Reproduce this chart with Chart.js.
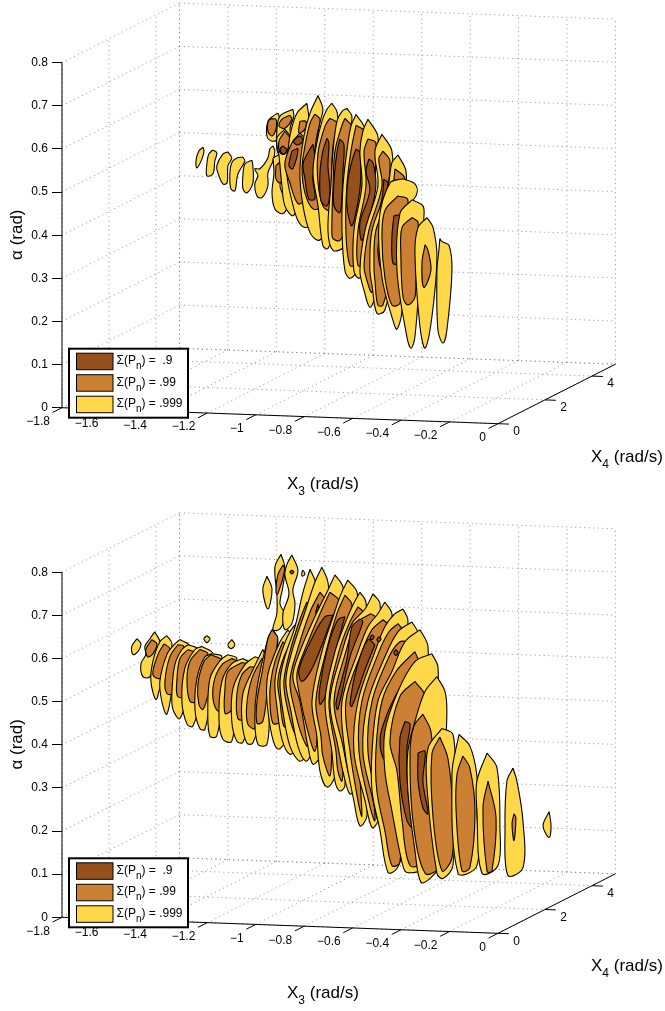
<!DOCTYPE html>
<html>
<head>
<meta charset="utf-8">
<title>Contours</title>
<script src="https://cdn.jsdelivr.net/npm/chart.js@4"></script>
<style>
  html, body { margin: 0; padding: 0; background: #fff; overflow: hidden; }
  canvas { display: block; }
</style>
</head>
<body>
<canvas id="upper" width="665" height="505"></canvas>
<canvas id="lower" width="665" height="506"></canvas>
<script>
// ticks of the three axes
const x3Ticks = [-1.8, -1.6, -1.4, -1.2, -1, -0.8, -0.6, -0.4, -0.2, 0];
const x3Labels = ['\u22121.8', '\u22121.6', '\u22121.4', '\u22121.2', '\u22121', '\u22120.8', '\u22120.6', '\u22120.4', '\u22120.2', '0'];
const x4Ticks = [0, 2, 4];
const x4Max = 5;
const alphaTicks = [0, 0.1, 0.2, 0.3, 0.4, 0.5, 0.6, 0.7, 0.8];
const legendLabels = [') =  .9', ') = .99', ') = .999'];

// contour outlines, first number = slice, then pairs of
// projected x3 and projected alpha, both in thousandths
const upperYellow = [
  [0,-1218,604,-1214,595,-1222,577,-1243,556,-1247,572,-1235,595],
  [1,-1177,598,-1161,591,-1169,572,-1177,542,-1202,538,-1202,565,-1194,588],
  [2,-1115,593,-1099,579,-1115,561,-1119,521,-1136,519,-1156,544,-1161,561,-1136,588],
  [3,-1053,581,-1045,572,-1074,542,-1086,503,-1103,508,-1107,542,-1099,568,-1078,579],
  [4,-1016,574,-1012,561,-1012,521,-1037,498,-1053,508,-1053,538,-1045,565],
  [5,-929,607,-921,595,-929,572,-950,544,-950,514,-975,487,-995,491,-1004,519,-991,538,-1004,554,-983,554,-950,579,-942,600],
  [6,-909,683,-900,669,-913,641,-909,623,-933,618,-954,630,-950,664,-929,676],
  [7,-847,692,-843,676,-859,646,-851,623,-880,595,-909,591,-913,641,-900,676],
  [8,-929,579,-892,588,-888,544,-900,514,-871,468,-888,450,-921,461,-933,498,-925,544],
  [9,-880,646,-851,623,-859,591,-859,514,-830,468,-847,445,-880,468,-892,514,-904,584,-913,625],
  [10,-789,706,-781,676,-768,618,-756,503,-768,429,-797,418,-826,434,-851,480,-871,538,-867,595,-855,641,-830,683],
  [11,-743,724,-723,692,-739,653,-752,572,-735,480,-723,399,-743,388,-776,406,-805,468,-818,549,-801,630,-776,683],
  [12,-686,706,-665,687,-661,653,-673,572,-661,434,-702,369,-723,376,-743,468,-764,544,-748,614,-727,664,-706,692],
  [13,-624,694,-603,676,-611,641,-603,480,-632,376,-681,365,-702,411,-690,514,-681,595,-665,664,-644,687],
  [14,-586,680,-549,646,-553,584,-562,445,-578,323,-611,300,-632,318,-644,411,-640,514,-624,595,-607,653],
  [15,-537,669,-496,630,-504,572,-520,422,-549,318,-574,300,-595,318,-595,411,-562,514,-570,595,-558,641],
  [16,-479,634,-438,595,-438,503,-467,365,-508,256,-529,233,-553,272,-570,318,-549,411,-496,514,-508,595],
  [17,-413,586,-380,549,-384,480,-425,341,-467,226,-500,219,-520,284,-529,318,-520,411,-454,514,-438,568],
  [18,-392,531,-343,519,-335,496,-384,450,-396,226,-417,182,-434,203,-479,302,-491,434,-446,521],
  [19,-355,482,-310,468,-306,441,-322,318,-343,164,-359,138,-376,164,-417,318,-405,450],
  [20,-293,441,-268,418,-252,348,-273,210,-301,138,-322,187,-343,358,-330,418],
  [21,-240,392,-231,385,-202,376,-190,318,-211,180,-227,150,-248,180,-252,318,-244,365]
];
const upperOrange = [
  [6,-942,669,-917,669,-917,646,-933,630,-950,641,-950,662],
  [7,-859,678,-851,669,-880,648,-904,653,-892,669],
  [8,-917,561,-892,572,-888,538,-900,521,-917,531],
  [9,-880,641,-859,625,-867,600,-880,588,-900,591,-904,618],
  [10,-818,637,-797,623,-805,544,-797,484,-826,473,-859,521,-880,565,-851,614],
  [10,-818,664,-793,664,-797,646,-822,637],
  [11,-756,681,-735,669,-748,630,-756,591,-743,514,-727,468,-764,461,-797,498,-809,554,-797,607,-776,660],
  [12,-694,671,-665,660,-681,607,-686,544,-673,480,-694,457,-723,468,-743,521,-743,591,-714,653],
  [13,-632,671,-599,648,-607,591,-611,514,-624,422,-653,388,-681,392,-686,411,-681,514,-673,595,-644,655],
  [14,-586,655,-545,637,-562,503,-578,337,-611,330,-628,411,-624,514,-607,595],
  [15,-537,623,-504,614,-516,503,-545,337,-578,330,-578,411,-545,514,-553,595],
  [16,-475,595,-446,572,-458,491,-475,365,-520,268,-541,295,-553,330,-533,411,-479,514,-492,577],
  [17,-425,554,-384,531,-405,457,-425,353,-475,238,-496,238,-508,295,-512,330,-504,411,-438,503],
  [18,-413,491,-372,482,-384,325,-405,242,-438,238,-467,302,-479,394,-467,457],
  [19,-355,441,-330,429,-339,318,-343,256,-372,238,-392,256,-401,358,-396,418],
  [20,-301,378,-289,365,-277,318,-306,279,-314,335]
];
const upperBrown = [
  [9,-888,607,-871,597,-888,588,-900,600],
  [10,-847,618,-818,630,-805,618,-830,609],
  [10,-851,595,-826,600,-847,554,-863,561],
  [11,-764,611,-756,579,-764,531,-756,484,-781,484,-797,531,-805,565,-785,591],
  [12,-706,625,-698,614,-702,561,-694,503,-706,468,-731,480,-735,544,-723,595],
  [13,-653,623,-636,611,-640,549,-644,491,-653,452,-677,468,-677,526,-665,591],
  [14,-586,600,-570,591,-566,544,-574,491,-603,422,-624,468,-620,526,-603,572],
  [15,-533,577,-516,568,-504,514,-529,445,-562,388,-570,429,-529,503,-545,549],
  [16,-471,530,-454,521,-471,468,-487,375,-520,346,-516,399,-479,485],
  [17,-458,498,-442,491,-454,422,-458,353,-479,318,-496,365,-479,422,-467,473],
  [18,-430,445,-405,445,-413,335,-434,335,-438,394]
];

const lowerYellow = [
  [0,-1491,646,-1474,634,-1487,616,-1507,609,-1512,628],
  [0,-1202,653,-1189,646,-1202,637,-1214,646],
  [0,-1099,644,-1086,632,-1103,623,-1115,632],
  [1,-1417,662,-1396,639,-1404,611,-1437,558,-1466,558,-1474,588,-1454,609,-1458,628,-1437,646],
  [2,-1367,653,-1346,634,-1367,570,-1396,531,-1412,505,-1433,547,-1425,593,-1396,639],
  [3,-1313,644,-1272,628,-1334,554,-1367,471,-1388,501,-1396,547,-1367,609,-1334,634],
  [4,-1280,632,-1239,621,-1264,554,-1313,461,-1342,482,-1346,524,-1334,586,-1305,621],
  [5,-1222,628,-1177,611,-1210,531,-1260,443,-1284,448,-1305,501,-1293,577,-1251,621],
  [6,-1181,611,-1140,604,-1177,531,-1210,436,-1231,438,-1251,482,-1243,554,-1210,604],
  [7,-1115,609,-1078,600,-1127,531,-1161,420,-1189,420,-1198,471,-1189,554,-1148,595],
  [8,-1053,600,-1024,588,-1074,508,-1099,408,-1136,413,-1152,461,-1140,547,-1099,588],
  [9,-1004,604,-983,598,-1012,484,-1053,406,-1078,408,-1099,454,-1094,531,-1045,586],
  [10,-971,621,-950,593,-975,478,-1012,404,-1037,404,-1057,454,-1053,519,-1012,574],
  [11,-929,669,-909,639,-942,484,-954,401,-991,401,-1004,461,-995,531,-950,646],
  [12,-954,791,-933,761,-950,715,-971,759],
  [12,-896,842,-880,812,-888,766,-900,727,-880,701,-900,669,-929,667,-913,704,-913,750,-921,812],
  [13,-851,840,-826,805,-847,759,-838,727,-851,681,-880,667,-888,704,-863,750,-880,794,-871,819],
  [13,-805,805,-797,796,-809,791,-809,801],
  [14,-867,667,-838,639,-859,593,-880,501,-880,408,-909,390,-933,420,-954,501,-954,547,-942,581,-900,639],
  [15,-818,690,-793,651,-805,593,-830,501,-830,397,-859,378,-892,413,-913,489,-921,547,-900,604,-859,662],
  [16,-776,807,-752,773,-752,674,-768,570,-776,454,-789,381,-818,362,-859,397,-888,478,-900,547,-880,604,-838,674,-805,754],
  [17,-727,812,-702,777,-694,697,-727,581,-756,454,-768,385,-793,362,-826,397,-855,478,-876,547,-851,616,-797,708,-756,777],
  [18,-673,794,-640,766,-632,697,-673,593,-714,478,-735,374,-764,355,-785,397,-818,501,-847,558,-818,616,-756,697,-702,759],
  [19,-620,782,-582,754,-578,674,-632,570,-665,454,-673,328,-706,302,-735,339,-748,420,-768,501,-727,616,-681,697,-648,750],
  [20,-570,754,-545,731,-549,662,-611,570,-632,431,-632,305,-653,293,-673,316,-686,385,-714,501,-673,616,-632,681,-599,724],
  [21,-516,750,-487,727,-496,662,-570,547,-603,420,-586,305,-611,286,-636,328,-661,397,-694,501,-644,616,-603,681,-549,715],
  [22,-467,731,-438,704,-438,628,-508,512,-549,385,-541,235,-570,212,-595,270,-632,385,-644,501,-578,616,-537,674,-496,704],
  [23,-392,715,-372,690,-384,616,-454,501,-496,362,-496,224,-520,208,-549,270,-595,385,-578,501,-508,616,-467,674,-425,704],
  [24,-355,685,-330,657,-355,570,-425,454,-454,339,-458,235,-487,212,-520,281,-558,385,-537,501,-467,604,-413,662],
  [25,-322,667,-289,628,-301,547,-363,431,-392,293,-396,155,-417,113,-454,104,-487,201,-520,293,-520,385,-496,501,-438,570,-384,639],
  [26,-273,611,-248,581,-252,501,-289,270,-301,118,-376,104,-396,127,-438,247,-467,339,-467,431,-413,524,-343,593],
  [27,-252,558,-219,524,-211,478,-219,362,-227,132,-277,92,-318,81,-343,155,-372,293,-372,385,-343,454,-301,524],
  [28,-231,438,-186,424,-178,323,-186,120,-227,90,-252,102,-293,300,-289,392],
  [29,-161,424,-116,397,-87,328,-87,247,-87,120,-165,102,-190,332],
  [30,-45,381,-4,346,8,208,0,120,-66,102,-87,247,-87,316],
  [31,62,346,78,316,103,224,103,115,41,97,29,208,37,316],
  [32,211,245,219,212,211,185,186,212]
];
const lowerOrange = [
  [1,-1429,644,-1408,634,-1425,611,-1446,604,-1454,621],
  [2,-1379,634,-1355,623,-1375,577,-1396,554,-1425,563,-1404,609],
  [3,-1322,632,-1297,628,-1313,570,-1342,519,-1367,519,-1375,547,-1355,604],
  [4,-1280,621,-1247,611,-1284,554,-1284,512,-1322,512,-1326,547,-1313,600],
  [5,-1231,621,-1198,611,-1231,563,-1243,501,-1272,501,-1284,551,-1272,593],
  [6,-1185,609,-1140,595,-1169,554,-1198,512,-1218,482,-1235,494,-1239,540,-1214,593],
  [7,-1099,600,-1078,593,-1115,540,-1127,489,-1156,478,-1177,508,-1169,554,-1136,588],
  [8,-1057,591,-1037,586,-1078,547,-1099,482,-1127,473,-1127,531,-1115,570],
  [9,-1024,581,-995,577,-1033,484,-1045,459,-1074,461,-1078,517,-1057,563],
  [10,-975,600,-954,593,-995,501,-1004,438,-1033,448,-1037,494,-1016,554],
  [11,-933,667,-909,646,-950,531,-971,454,-995,450,-995,501,-971,577,-950,646],
  [12,-888,817,-880,807,-909,750,-917,754,-909,794],
  [14,-888,639,-859,616,-888,547,-900,454,-929,450,-942,501,-938,547,-921,593],
  [15,-830,662,-809,639,-838,570,-859,443,-884,443,-900,501,-909,547,-884,604],
  [16,-789,731,-760,681,-797,581,-805,420,-834,420,-871,489,-884,547,-859,616,-818,690],
  [17,-735,754,-710,731,-743,616,-776,501,-785,397,-809,420,-838,478,-859,547,-830,616,-776,708],
  [18,-694,754,-653,731,-673,662,-735,558,-743,443,-756,385,-785,431,-818,512,-830,565,-797,621,-735,704],
  [19,-632,747,-603,724,-632,651,-686,547,-686,397,-694,328,-723,374,-731,420,-752,501,-710,616,-665,704],
  [20,-578,720,-553,704,-591,616,-653,512,-640,385,-644,316,-661,339,-669,385,-698,501,-657,616,-615,681],
  [21,-525,704,-496,690,-529,628,-611,501,-611,362,-599,305,-615,328,-640,397,-677,501,-628,616,-586,681],
  [22,-475,690,-446,674,-479,593,-562,478,-570,339,-562,235,-578,270,-611,385,-628,501,-562,616,-520,667],
  [23,-413,681,-384,657,-425,570,-508,454,-516,316,-508,224,-529,258,-574,385,-562,501,-491,616,-450,662],
  [24,-372,639,-351,616,-384,547,-454,420,-479,316,-475,242,-496,270,-537,385,-520,501,-450,604,-405,639],
  [25,-343,616,-322,581,-355,501,-417,362,-405,247,-405,127,-438,120,-467,201,-500,293,-504,385,-479,501,-421,570],
  [26,-343,547,-301,512,-310,270,-301,132,-363,120,-396,224,-417,339,-446,408,-405,512],
  [27,-310,471,-277,431,-260,293,-240,120,-301,102,-351,224,-363,385,-347,443],
  [28,-240,418,-207,369,-186,247,-190,138,-231,108,-268,231,-273,378],
  [29,-145,374,-116,346,-95,247,-116,115,-149,108,-173,247,-169,332],
  [30,-41,316,-8,231,-25,108,-45,106,-62,254],
  [31,66,240,74,231,66,178,58,217]
];
const lowerBrown = [
  [13,-851,805,-843,801,-851,796,-859,801],
  [15,-867,616,-851,604,-880,547,-896,565],
  [16,-826,593,-805,581,-830,512,-859,524,-867,565],
  [17,-743,727,-739,697,-752,704],
  [18,-681,701,-694,681,-764,581,-809,547,-822,574,-764,651,-714,697],
  [19,-632,697,-673,611,-714,512,-735,494,-735,535,-702,628,-661,690],
  [21,-570,692,-558,685,-611,604,-661,482,-669,496,-624,598,-603,674],
  [22,-508,632,-549,574,-603,489,-611,496,-582,581,-537,644],
  [23,-454,570,-446,563,-496,489,-508,466,-537,466,-500,551],
  [25,-417,521,-413,501,-446,448,-438,369,-467,362,-487,413,-458,471],
  [26,-384,454,-363,448,-376,392,-372,293,-351,208,-376,224,-405,316,-405,415],
  [27,-330,381,-301,385,-310,316,-289,240,-310,254,-330,316],
  [33,-520,655,-512,651,-520,644,-529,648],
  [33,-491,651,-483,646,-491,639,-500,644],
  [33,-421,621,-413,614,-421,607,-430,614]
];

const fills = { yellow: '#ffd84a', orange: '#cc8033', brown: '#96501c' };
const legendColors = [fills.brown, fills.orange, fills.yellow];

// projection of the 3d box on the page, in x3 and alpha units
function project(x3, x4, alpha) {
  return { x: x3 + 0.097 * x4, y: alpha - 0.0206 * x3 + 0.0276 * x4 - 0.0371 };
}

function lineSet(points, color, dash, width) {
  return {
    data: points, showLine: true, fill: false, pointRadius: 0, borderColor: color,
    borderWidth: width, borderDash: dash, clip: false
  };
}

function boxLines() {
  const sets = [];
  const dotted = (a, b) => sets.push(lineSet([project(...a), project(...b)], '#777', [1, 3.5], 0.8));
  const solid = (a, b) => sets.push(lineSet([project(...a), project(...b)], '#000', [], 1));
  const x3Min = x3Ticks[0];
  const alphaMax = alphaTicks[alphaTicks.length - 1];
  alphaTicks.forEach(a => {
    dotted([x3Min, 0, a], [x3Min, x4Max, a]);
    dotted([x3Min, x4Max, a], [0, x4Max, a]);
  });
  x3Ticks.forEach(t => {
    dotted([t, x4Max, 0], [t, x4Max, alphaMax]);
    dotted([t, 0, 0], [t, x4Max, 0]);
    solid([t, 0, 0], [t, -0.4, 0]);
  });
  x4Ticks.concat([x4Max]).forEach(t => {
    dotted([x3Min, t, 0], [x3Min, t, alphaMax]);
    dotted([x3Min, t, 0], [0, t, 0]);
  });
  x4Ticks.forEach(t => solid([0, t, 0], [0.045, t, 0]));
  solid([x3Min, 0, 0], [0, 0, 0]);
  solid([0, 0, 0], [0, x4Max, 0]);
  solid([x3Min, 0, 0], [x3Min, 0, alphaMax]);
  return sets;
}

function outlineSet(outline, color) {
  const pts = [];
  for (let i = 1; i < outline.length; i += 2) {
    pts.push({ x: outline[i] / 1000, y: outline[i + 1] / 1000 });
  }
  pts.push(pts[0]);
  return {
    data: pts, showLine: true, fill: 'shape', backgroundColor: color, borderColor: '#000',
    borderWidth: 1.1, pointRadius: 0, tension: 0.35, clip: false
  };
}

function sliceSets(yellow, orange, brown) {
  const sets = [];
  for (let s = 0; s < 40; s++) {
    yellow.filter(o => o[0] === s).forEach(o => sets.push(outlineSet(o, fills.yellow)));
    orange.filter(o => o[0] === s).forEach(o => sets.push(outlineSet(o, fills.orange)));
    brown.filter(o => o[0] === s).forEach(o => sets.push(outlineSet(o, fills.brown)));
  }
  return sets;
}

const axisText = {
  id: 'axisText',
  afterDraw(chart) {
    const ctx = chart.ctx;
    const sx = chart.scales.x;
    const sy = chart.scales.y;
    const zero = sy.getPixelForValue(0);
    ctx.save();
    ctx.fillStyle = '#000';
    ctx.textBaseline = 'middle';
    ctx.font = '12px "Liberation Sans"';
    ctx.textAlign = 'right';
    x3Ticks.forEach((t, i) => {
      const p = project(t, 0, 0);
      ctx.fillText(x3Labels[i], sx.getPixelForValue(p.x) - 12, sy.getPixelForValue(p.y) + 14);
    });
    ctx.textAlign = 'center';
    x4Ticks.forEach(t => {
      const p = project(0, t, 0);
      ctx.fillText(String(t), sx.getPixelForValue(p.x) + 18.5, sy.getPixelForValue(p.y) + 8);
    });

    ctx.textAlign = 'left';
    ctx.textBaseline = 'alphabetic';
    const subLabel = (x, y, main, sub, rest) => {
      ctx.font = '17px "Liberation Sans"';
      ctx.fillText(main, x, y);
      x += ctx.measureText(main).width;
      ctx.font = '12px "Liberation Sans"';
      ctx.fillText(sub, x, y + 6);
      x += ctx.measureText(sub).width;
      ctx.font = '17px "Liberation Sans"';
      ctx.fillText(rest, x, y);
    };
    subLabel(287, zero + 81, 'X', '3', ' (rad/s)');
    subLabel(591, zero + 54, 'X', '4', ' (rad/s)');

    ctx.save();
    ctx.translate(22, zero - 173);
    ctx.rotate(-Math.PI / 2);
    ctx.textAlign = 'center';
    ctx.font = '17px "Liberation Sans"';
    ctx.fillText('\u03b1 (rad)', 0, 0);
    ctx.restore();

    // legend
    ctx.fillStyle = '#fff';
    ctx.fillRect(69, zero - 59, 119, 69);
    ctx.strokeStyle = '#000';
    ctx.lineWidth = 2;
    ctx.strokeRect(69, zero - 59, 119, 69);
    ctx.lineWidth = 1;
    legendLabels.forEach((label, i) => {
      const top = zero - 54.5 + i * 21.5;
      ctx.fillStyle = legendColors[i];
      ctx.fillRect(76.5, top, 36.5, 16.5);
      ctx.strokeRect(76.5, top, 36.5, 16.5);
      ctx.fillStyle = '#000';
      let x = 116.5;
      const y = top + 10.8;
      ctx.font = '12px "Liberation Sans"';
      ctx.fillText('\u03a3(P', x, y);
      x += ctx.measureText('\u03a3(P').width;
      ctx.font = '10px "Liberation Sans"';
      ctx.fillText('n', x, y + 5);
      x += ctx.measureText('n').width;
      ctx.font = '12px "Liberation Sans"';
      ctx.fillText(label, x, y);
    });
    ctx.restore();
  }
};

function makeChart(id, zeroPx, height, yellow, orange, brown) {
  const pxPerAlpha = 431.25;
  new Chart(document.getElementById(id), {
    type: 'scatter',
    data: { datasets: boxLines().concat(sliceSets(yellow, orange, brown)).map((d, i, all) => ({ ...d, order: all.length - i })) },
    plugins: [axisText],
    options: {
      responsive: false,
      animation: false,
      events: [],
      layout: { autoPadding: false, padding: 0 },
      plugins: { legend: { display: false }, tooltip: { enabled: false } },
      scales: {
        x: { type: 'linear', display: false, min: -1.8, max: 167 / 242.2 },
        y: {
          type: 'linear',
          min: (zeroPx - height) / pxPerAlpha,
          max: zeroPx / pxPerAlpha,
          afterBuildTicks: s => { s.ticks = alphaTicks.map(v => ({ value: v })); },
          afterFit: s => { s.width = 62; s.paddingTop = 0; s.paddingBottom = 0; s.paddingLeft = 0; s.paddingRight = 0; },
          border: { display: false },
          grid: { drawOnChartArea: false, drawTicks: true, tickLength: 10, color: '#000' },
          ticks: { color: '#000', padding: 4, font: { family: '"Liberation Sans"', size: 12 }, callback: v => String(v) }
        }
      }
    }
  });
}

makeChart('upper', 407.7, 505, upperYellow, upperOrange, upperBrown);
makeChart('lower', 412.3, 506, lowerYellow, lowerOrange, lowerBrown);
</script>
</body>
</html>
